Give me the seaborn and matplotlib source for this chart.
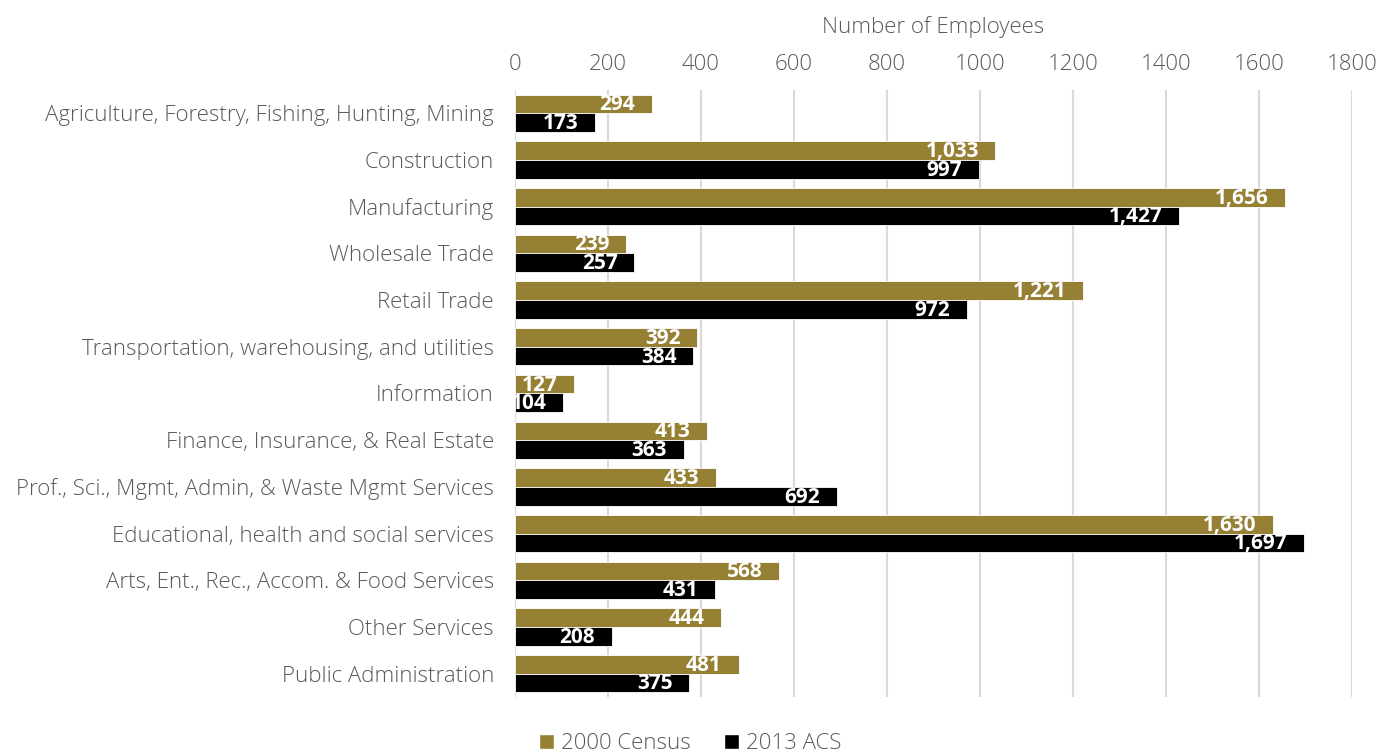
import matplotlib
matplotlib.use("Agg")
import matplotlib.pyplot as plt
import pandas as pd
import seaborn as sns
from matplotlib.patches import Patch

categories = [
    "Agriculture, Forestry, Fishing, Hunting, Mining",
    "Construction",
    "Manufacturing",
    "Wholesale Trade",
    "Retail Trade",
    "Transportation, warehousing, and utilities",
    "Information",
    "Finance, Insurance, & Real Estate",
    "Prof., Sci., Mgmt, Admin, & Waste Mgmt Services",
    "Educational, health and social services",
    "Arts, Ent., Rec., Accom. & Food Services",
    "Other Services",
    "Public Administration",
]
census_2000 = [294, 1033, 1656, 239, 1221, 392, 127, 413, 433, 1630, 568, 444, 481]
acs_2013 = [173, 997, 1427, 257, 972, 384, 104, 363, 692, 1697, 431, 208, 375]
series_names = ["2000 Census", "2013 ACS"]
colors = ["#968034", "#000000"]
x_ticks = [0, 200, 400, 600, 800, 1000, 1200, 1400, 1600, 1800]

df = pd.DataFrame({
    "category": categories * 2,
    "value": census_2000 + acs_2013,
    "series": [series_names[0]] * len(categories) + [series_names[1]] * len(categories),
})

sns.set_style("white")
plt.rcParams["font.family"] = ["Open Sans", "DejaVu Sans"]
text_color = "#595959"

fig = plt.figure(figsize=(13.8, 7.56), dpi=100)
ax = fig.add_axes([0.373, 0.078, 0.607, 0.803])

sns.barplot(
    data=df, x="value", y="category", hue="series", orient="h",
    palette=colors, saturation=1, width=0.8, edgecolor="white", linewidth=0.6,
    legend=False, ax=ax,
)

# value labels inside bar ends
for cont in ax.containers:
    for p in cont:
        w = p.get_width()
        ax.text(w - 36, p.get_y() + p.get_height() / 2 + 0.02, f"{int(round(w)):,}",
                ha="right", va="center", color="white", fontsize=15,
                fontweight="bold")

ax.set_xlim(0, 1800)
ax.set_ylim(len(categories) - 0.5, -0.5)
ax.set_xticks(x_ticks)
ax.xaxis.tick_top()
ax.xaxis.set_label_position("top")
ax.set_xlabel("Number of Employees", fontsize=16, color=text_color,
              fontweight="light", labelpad=15)
ax.set_ylabel("")
ax.tick_params(axis="x", length=0, labelsize=16, labelcolor=text_color, pad=11)
ax.tick_params(axis="y", length=0, labelsize=16, labelcolor=text_color, pad=15)
for lab in ax.get_xticklabels() + ax.get_yticklabels():
    lab.set_fontweight("light")

ax.grid(axis="x", color="#d9d9d9", linewidth=1.5)
ax.grid(axis="y", visible=False)
ax.set_axisbelow(True)
for s in ax.spines.values():
    s.set_visible(False)

handles = [Patch(facecolor=c, label=n) for c, n in zip(colors, series_names)]
leg = fig.legend(handles=handles, loc="lower center", bbox_to_anchor=(0.5, -0.024),
                 ncol=2, frameon=False, fontsize=16, handlelength=0.7,
                 handleheight=0.7, handletextpad=0.3, columnspacing=1.5)
for t in leg.get_texts():
    t.set_color(text_color)
    t.set_fontweight("light")

fig.savefig("out.png", dpi=100)
